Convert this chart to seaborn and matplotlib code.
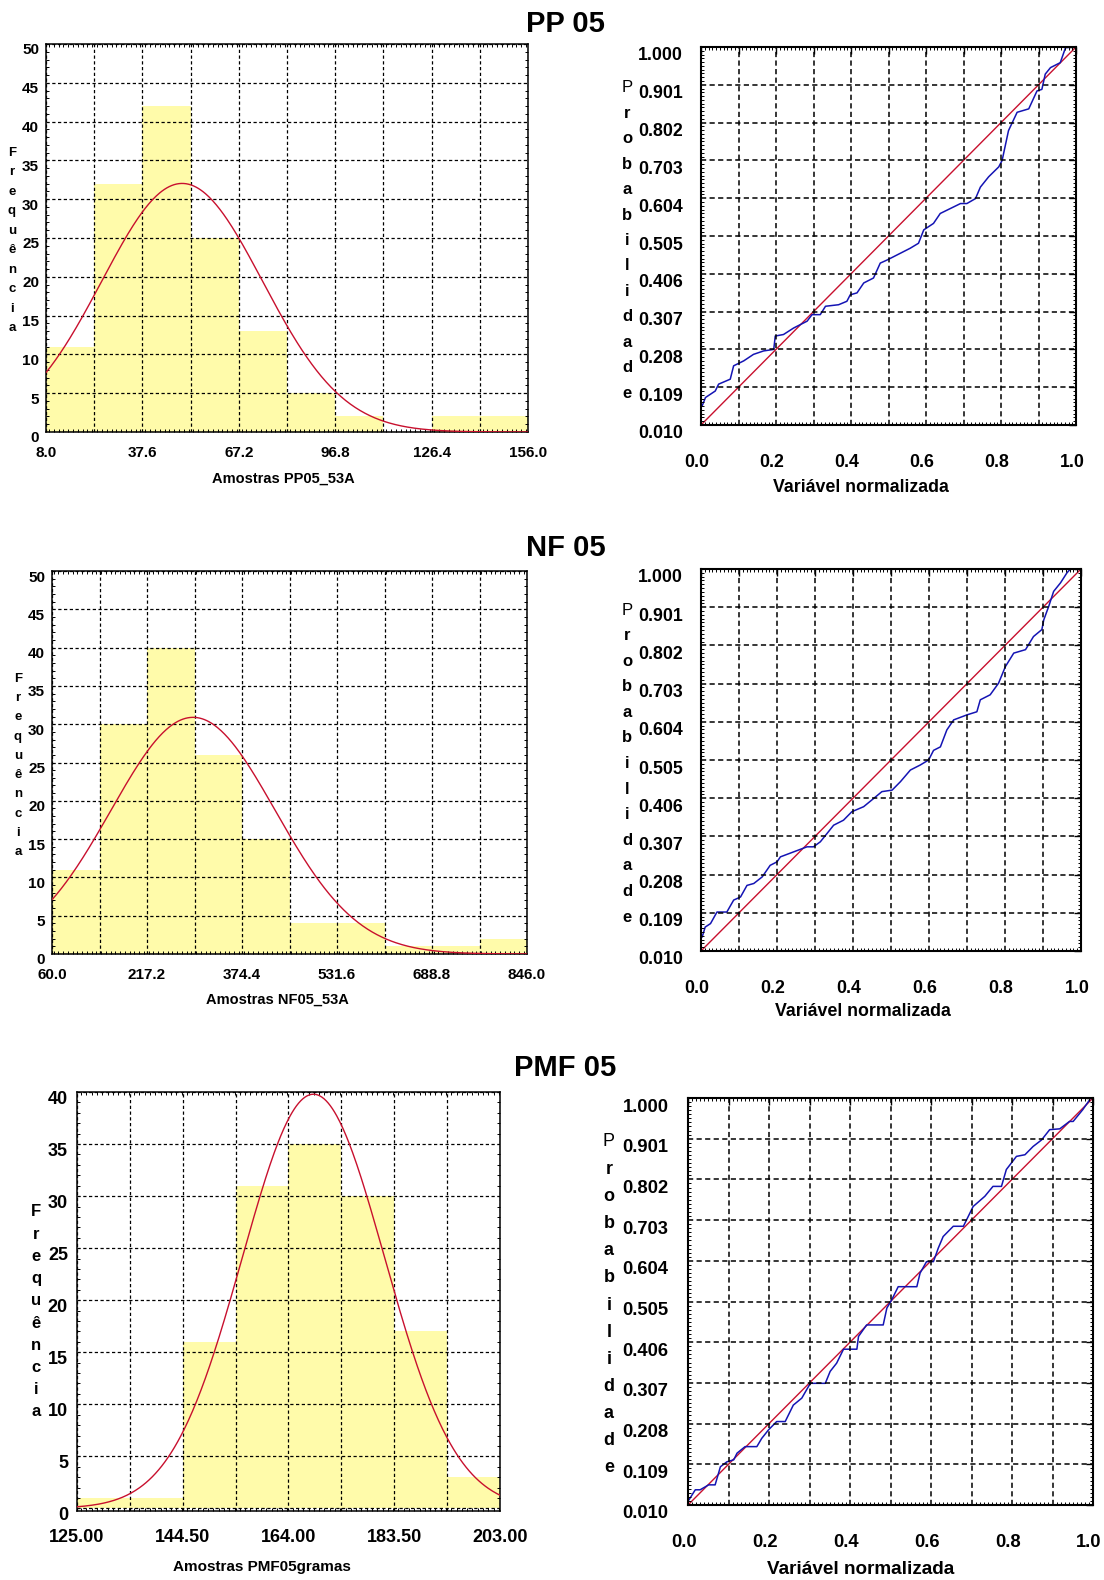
import numpy as np
import pandas as pd
import matplotlib
matplotlib.use("Agg")
import matplotlib.pyplot as plt
import matplotlib.transforms as mtransforms
from matplotlib.ticker import FixedLocator, MultipleLocator
from matplotlib import font_manager
import seaborn as sns

# ---------------- data ----------------
# histograms: counts per class, class range, fitted normal (mean, std)
pp_counts = [11, 32, 42, 25, 13, 5, 2, 0, 2, 2]
pp_range = (8.0, 156.0)
pp_fit = (49.8, 24.7)

nf_counts = [11, 30, 40, 26, 15, 4, 4, 1, 1, 2]
nf_range = (60.0, 846.0)
nf_fit = (293.4, 136.0)

pmf_counts = [1, 1, 16, 31, 35, 30, 17, 3]
pmf_range = (125.0, 203.0)
pmf_fit = (168.6, 13.1)

# probability plots: empirical curve (blue)
pp_prob_x = [0.003, 0.012, 0.038, 0.047, 0.078, 0.087, 0.114, 0.140, 0.167, 0.194,
             0.198, 0.220, 0.247, 0.283, 0.296, 0.318, 0.332, 0.367, 0.389, 0.398,
             0.416, 0.434, 0.460, 0.478, 0.496, 0.532, 0.558, 0.580, 0.594, 0.620,
             0.638, 0.692, 0.709, 0.732, 0.745, 0.767, 0.794, 0.803, 0.820, 0.843,
             0.874, 0.896, 0.909, 0.918, 0.932, 0.958, 0.972, 0.994]
pp_prob_y = [0.060, 0.082, 0.099, 0.117, 0.130, 0.165, 0.178, 0.195, 0.204, 0.208,
             0.243, 0.247, 0.264, 0.282, 0.299, 0.299, 0.321, 0.325, 0.334, 0.351,
             0.356, 0.382, 0.395, 0.434, 0.442, 0.460, 0.473, 0.486, 0.521, 0.538,
             0.564, 0.590, 0.590, 0.603, 0.633, 0.660, 0.686, 0.703, 0.781, 0.829,
             0.838, 0.885, 0.889, 0.929, 0.946, 0.959, 0.998, 1.000]

nf_prob_x = [0.003, 0.011, 0.025, 0.042, 0.068, 0.086, 0.104, 0.121, 0.139, 0.161,
             0.182, 0.200, 0.209, 0.244, 0.279, 0.296, 0.314, 0.332, 0.349, 0.375,
             0.397, 0.428, 0.454, 0.476, 0.503, 0.525, 0.551, 0.577, 0.599, 0.612,
             0.630, 0.647, 0.665, 0.700, 0.726, 0.735, 0.761, 0.783, 0.801, 0.823,
             0.854, 0.875, 0.897, 0.902, 0.915, 0.928, 0.946, 0.963, 0.972]
nf_prob_y = [0.046, 0.072, 0.081, 0.111, 0.111, 0.142, 0.150, 0.180, 0.185, 0.202,
             0.232, 0.241, 0.254, 0.267, 0.280, 0.280, 0.293, 0.315, 0.336, 0.349,
             0.371, 0.384, 0.405, 0.423, 0.427, 0.449, 0.479, 0.492, 0.505, 0.530,
             0.539, 0.583, 0.609, 0.622, 0.630, 0.661, 0.674, 0.704, 0.747, 0.782,
             0.791, 0.825, 0.843, 0.868, 0.903, 0.942, 0.964, 0.990, 1.000]

pmf_prob_x = [0.002, 0.018, 0.030, 0.051, 0.067, 0.080, 0.096, 0.113, 0.121, 0.141,
              0.170, 0.182, 0.199, 0.219, 0.240, 0.260, 0.281, 0.302, 0.339, 0.351,
              0.367, 0.384, 0.417, 0.421, 0.441, 0.482, 0.491, 0.503, 0.519, 0.565,
              0.573, 0.589, 0.606, 0.618, 0.630, 0.655, 0.680, 0.692, 0.704, 0.733,
              0.753, 0.774, 0.786, 0.811, 0.832, 0.852, 0.873, 0.893, 0.918, 0.942,
              0.951, 0.975, 0.992]
pmf_prob_y = [0.022, 0.047, 0.047, 0.059, 0.059, 0.103, 0.115, 0.120, 0.136, 0.152,
              0.152, 0.172, 0.193, 0.213, 0.213, 0.253, 0.270, 0.306, 0.306, 0.335,
              0.355, 0.389, 0.389, 0.420, 0.448, 0.448, 0.489, 0.509, 0.541, 0.541,
              0.574, 0.602, 0.602, 0.635, 0.663, 0.688, 0.688, 0.712, 0.736, 0.761,
              0.785, 0.785, 0.826, 0.858, 0.862, 0.882, 0.898, 0.923, 0.925, 0.943,
              0.943, 0.972, 0.996]

# theoretical line (red)
diag_x = [0.0, 1.0]
diag_y = [0.010, 1.000]

prob_ticks = [0.010, 0.109, 0.208, 0.307, 0.406, 0.505, 0.604, 0.703, 0.802, 0.901, 1.000]
norm_ticks = [0.0, 0.1, 0.2, 0.3, 0.4, 0.5, 0.6, 0.7, 0.8, 0.9, 1.0]

# ---------------- style ----------------
sns.set_theme(style="white")
names = {f.name for f in font_manager.fontManager.ttflist}
NARROW = "Liberation Sans Narrow" if "Liberation Sans Narrow" in names else "Liberation Sans"
plt.rcParams["font.family"] = ["Liberation Sans", "DejaVu Sans"]
plt.rcParams["text.color"] = "black"
plt.rcParams["xtick.color"] = "black"
plt.rcParams["ytick.color"] = "black"

YELLOW = "#FFFBAA"
RED = "#C8102E"
BLUE = "#1414B4"

W, H = 1104, 1580
fig = plt.figure(figsize=(W / 100, H / 100), dpi=100)
fig.patch.set_facecolor("white")


def box(l, t, r, b):
    return fig.add_axes([l / W, 1 - b / H, (r - l) / W, (b - t) / H])


def ftext(x, y, s, **kw):
    fig.text(x / W, 1 - y / H, s, ha="center", va="center", color="black", **kw)


def stack(x, y0, y1, word, fs, family, first_normal=False):
    n = len(word)
    for i, ch in enumerate(word):
        y = y0 + i * (y1 - y0) / (n - 1)
        wt = "normal" if (first_normal and i == 0) else "bold"
        ftext(x, y, ch, fontsize=fs, fontweight=wt, family=family)


def shift_labels(ax, dx_px=0, dy_px=0, axis="y"):
    off = mtransforms.ScaledTranslation(dx_px / 100, dy_px / 100, fig.dpi_scale_trans)
    labels = ax.get_yticklabels() if axis == "y" else ax.get_xticklabels()
    for lab in labels:
        lab.set_transform(lab.get_transform() + off)


def hist_panel(ax, counts, rng, fit, ylim, ystep, fmt, fs, ypad, xpad):
    nb = len(counts)
    edges = np.linspace(rng[0], rng[1], nb + 1)
    centers = (edges[:-1] + edges[1:]) / 2
    w = edges[1] - edges[0]
    df = pd.DataFrame({"x": centers, "n": counts})
    sns.histplot(data=df, x="x", weights="n", bins=nb, binrange=rng, ax=ax,
                 color=YELLOW, alpha=1, edgecolor="none", linewidth=0)
    xs = np.linspace(rng[0], rng[1], 400)
    ys = sum(counts) * w / (fit[1] * np.sqrt(2 * np.pi)) * np.exp(-0.5 * ((xs - fit[0]) / fit[1]) ** 2)
    ax.plot(xs, ys, color=RED, lw=1.0, zorder=4)
    ax.set_xlim(rng)
    ax.set_ylim(ylim)
    ax.set_xticks(edges)
    ax.set_xticklabels([fmt.format(v) if i % 2 == 0 else "" for i, v in enumerate(edges)])
    yt = np.arange(0, ylim[1] + 0.01, ystep)
    ax.set_yticks(yt)
    ax.set_yticklabels([f"{int(v)}" for v in yt])
    ax.set_axisbelow(False)
    ax.grid(True, color="black", linestyle=(0, (2.6, 2.0)), lw=0.9)
    ax.xaxis.set_minor_locator(MultipleLocator(w / 10))
    ax.yaxis.set_minor_locator(MultipleLocator(1))
    ax.tick_params(which="major", length=0, labelsize=fs, pad=ypad, axis="y")
    ax.tick_params(which="major", length=0, labelsize=fs, pad=xpad, axis="x")
    ax.tick_params(which="minor", direction="in", length=2.2, width=0.7, color="black",
                   top=True, bottom=True, left=True, right=True)
    for lab in ax.get_xticklabels() + ax.get_yticklabels():
        lab.set_family(NARROW)
        lab.set_fontweight("bold")
        lab.set_color("black")
    for s in ax.spines.values():
        s.set_color("black")
        s.set_linewidth(1.1)
    ax.set_xlabel("")
    ax.set_ylabel("")
    shift_labels(ax, dy_px=-5)


def prob_panel(ax, px, py, fs, ypad, xpad):
    sns.lineplot(x=diag_x, y=diag_y, ax=ax, color=RED, lw=1.0)
    sns.lineplot(x=px, y=py, ax=ax, color=BLUE, lw=1.1, sort=False, estimator=None)
    ax.set_xlim(0, 1)
    ax.set_ylim(0.01, 1.0)
    ax.set_xticks(norm_ticks)
    ax.set_xticklabels([f"{v:.1f}" if i % 2 == 0 else "" for i, v in enumerate(norm_ticks)])
    ax.set_yticks(prob_ticks)
    ax.set_yticklabels([f"{v:.3f}" for v in prob_ticks])
    ax.set_axisbelow(False)
    ax.grid(True, color="black", linestyle=(0, (3.4, 2.2)), lw=1.1)
    ax.xaxis.set_minor_locator(MultipleLocator(0.01))
    ax.yaxis.set_minor_locator(FixedLocator([0.01 + 0.0099 * k for k in range(101)]))
    ax.tick_params(which="major", direction="in", length=5, width=1.0, color="black",
                   top=True, right=True)
    ax.tick_params(axis="y", which="major", labelsize=fs, pad=ypad)
    ax.tick_params(axis="x", which="major", labelsize=fs, pad=xpad)
    ax.tick_params(which="minor", direction="in", length=2.5, width=0.7, color="black",
                   top=True, bottom=True, left=True, right=True)
    for lab in ax.get_xticklabels() + ax.get_yticklabels():
        lab.set_fontweight("bold")
        lab.set_color("black")
    for s in ax.spines.values():
        s.set_color("black")
        s.set_linewidth(1.5)
    ax.set_xlabel("")
    ax.set_ylabel("")
    shift_labels(ax, dy_px=-7)
    shift_labels(ax, dx_px=-4, axis="x")


# ---------------- panels ----------------
ax1 = box(46, 44, 528, 432)
hist_panel(ax1, pp_counts, pp_range, pp_fit, (0, 50), 5, "{:.1f}", 11, 5, 10)
ax2 = box(701, 47, 1076, 425)
prob_panel(ax2, pp_prob_x, pp_prob_y, 12.8, 13, 21)

ax3 = box(52, 571, 527, 954)
hist_panel(ax3, nf_counts, nf_range, nf_fit, (0, 50), 5, "{:.1f}", 11, 5, 10)
ax4 = box(701, 569, 1081, 951)
prob_panel(ax4, nf_prob_x, nf_prob_y, 12.8, 13, 21)

ax5 = box(77, 1092, 500, 1511)
hist_panel(ax5, pmf_counts, pmf_range, pmf_fit, (-0.25, 40), 5, "{:.2f}", 13, 6.5, 13)
ax6 = box(688, 1098, 1093, 1505)
prob_panel(ax6, pmf_prob_x, pmf_prob_y, 13.2, 14, 21)

# ---------------- titles and labels ----------------
ftext(565, 24, "PP 05", fontsize=21, fontweight="bold")
ftext(566, 548, "NF 05", fontsize=21, fontweight="bold")
ftext(565, 1068, "PMF 05", fontsize=21, fontweight="bold")

ftext(283, 479, "Amostras PP05_53A", fontsize=10.5, fontweight="bold", family=NARROW)
ftext(277, 1000, "Amostras NF05_53A", fontsize=10.5, fontweight="bold", family=NARROW)
ftext(262, 1567, "Amostras PMF05gramas", fontsize=11, fontweight="bold", family=NARROW)

ftext(861, 487, "Variável normalizada", fontsize=12.8, fontweight="bold", family=NARROW)
ftext(863, 1011, "Variável normalizada", fontsize=12.8, fontweight="bold", family=NARROW)
ftext(861, 1569, "Variável normalizada", fontsize=13.6, fontweight="bold", family=NARROW)

stack(12, 153, 328, "Frequência", 9.5, NARROW)
stack(18, 679, 852, "Frequência", 9.5, NARROW)
stack(36, 1212, 1412, "Frequência", 12, NARROW)

stack(627, 88, 393, "Probabilidade", 12, NARROW, first_normal=True)
stack(627, 610, 917, "Probabilidade", 12, NARROW, first_normal=True)
stack(609, 1142, 1468, "Probabilidade", 13, NARROW, first_normal=True)

fig.savefig("out.png", dpi=100, facecolor="white")
